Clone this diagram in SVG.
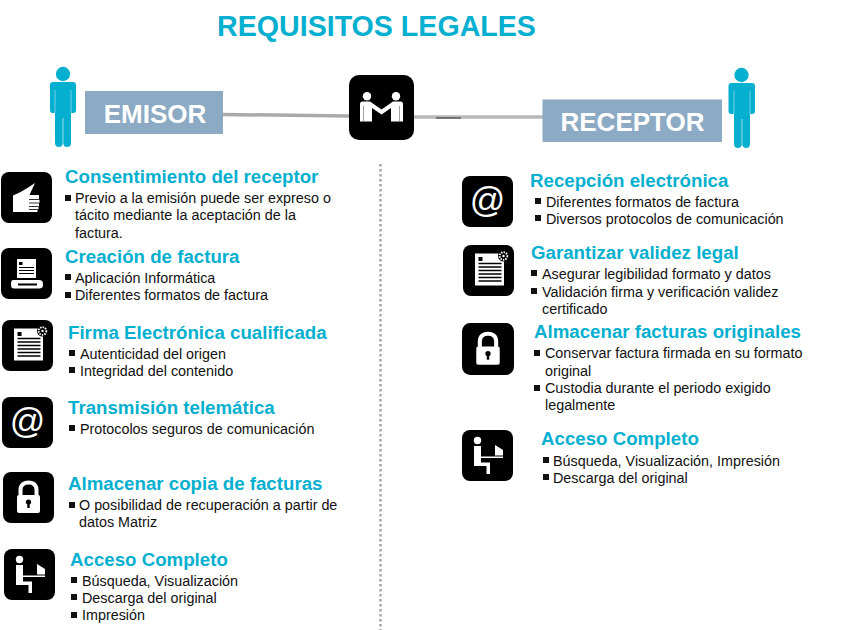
<svg xmlns="http://www.w3.org/2000/svg" width="855" height="630" viewBox="0 0 855 630">
<style>
text{font-family:"Liberation Sans",Arial,sans-serif}
.h{font-size:18.7px;font-weight:700;fill:#04afcf;transform:translateY(.4px)}
.b{font-size:14.35px;fill:#111;transform:translateY(.6px)}
.box{fill:#8caac4}
.lab{font-size:26px;font-weight:700;fill:#fff;text-anchor:middle}
.bg{fill:#000}
.w{fill:#fff}
.k{fill:#000}
.bu{fill:#111}
.slit{stroke:#fff;stroke-opacity:.55;stroke-width:.8;fill:none}
</style>
<defs>
<symbol id="at" viewBox="0 0 51 51"><rect width="51" height="51" rx="8" class="bg"/><text x="25.500" y="36" font-size="35" text-anchor="middle" fill="#fff">@</text></symbol>
<symbol id="doc" viewBox="0 0 51 51"><rect width="51" height="51" rx="8" class="bg"/><rect x="12" y="8.500" width="29" height="32" class="w"/><rect x="15.500" y="12" width="4" height="4" class="k"/><path d="M15.500 18.500H38.500M15.500 22H38.500M15.500 25.500H38.500M15.500 29H38.500M15.500 32.500H38.500M15.500 36H38.500" stroke="#000" stroke-width="1.400"/><circle cx="40.500" cy="11" r="5.500" fill="#000"/><circle cx="40.500" cy="11" r="3.800" fill="#000" stroke="#fff" stroke-width="1.800" stroke-dasharray="1.500 1"/><circle cx="40.500" cy="11" r="1.200" class="w"/></symbol>
<symbol id="lock" viewBox="0 0 51 51"><rect width="51" height="51" rx="8" class="bg"/><path d="M17.500 25V18C17.500 12.500 21.500 10.500 25.500 10.500S33.500 12.500 33.500 18V25" fill="none" stroke="#fff" stroke-width="4"/><rect x="14" y="23" width="23" height="18" rx="2" class="w"/><circle cx="25.500" cy="30" r="2.600" class="k"/><rect x="24.300" y="30" width="2.400" height="6" class="k"/></symbol>
<symbol id="pc" viewBox="0 0 51 51"><rect width="51" height="51" rx="8" class="bg"/><circle cx="15.500" cy="10.500" r="3.700" class="w"/><path d="M12 16H19V32.500H28V44H24.500V36H12Z" class="w"/><path d="M19 26.500H41V28H19Z" class="w"/><path d="M33 15L41 20V25.500H33Z" class="w"/></symbol>
</defs>

<text x="376.500" y="36" text-anchor="middle" font-size="28.600" font-weight="700" fill="#04afcf">REQUISITOS LEGALES</text>

<g id="connectors">
<path d="M223 114.500L349 116" stroke="#aaa" stroke-width="3.500" fill="none"/>
<path d="M414 117H543" stroke="#b8b8b8" stroke-width="3.500" fill="none"/>
<path d="M436 118H461" stroke="#6e6e6e" stroke-width="1.800" fill="none"/>
<path d="M380.500 164V630" stroke="#a6a6a6" stroke-width="2.500" stroke-dasharray="2.500 2.500" fill="none"/>
</g>

<g id="persona-emisor"><circle cx="63" cy="74" r="7.200" fill="#04afcf"/><path d="M53 82H73Q76 82 76 85V110Q76 113 73.500 113H71V143Q71 147 67 147Q64 147 63.300 144V118H62.700V144Q62 147 59 147Q55 147 55 143V113H52.500Q50 113 50 110V85Q50 82 53 82Z" fill="#04afcf"/><path class="slit" d="M55 90V113M71 90V113"/></g>
<g id="persona-receptor"><circle cx="741.500" cy="75" r="7.200" fill="#04afcf"/><path d="M731.500 83H752Q755 83 755 86V111Q755 114 752.500 114H750V144Q750 148 746 148Q743 148 742.300 145V119H741.700V145Q741 148 738 148Q734 148 734 144V114H731.500Q728.500 114 728.500 111V86Q728.500 83 731.500 83Z" fill="#04afcf"/><path class="slit" d="M734 91V114M750 91V114"/></g>

<g id="emisor"><rect class="box" x="85" y="91" width="138" height="43"/><text class="lab" x="155" y="122.500">EMISOR</text></g>
<g id="receptor"><rect class="box" x="542.500" y="99.500" width="179.500" height="42.500"/><text class="lab" x="632.500" y="131">RECEPTOR</text></g>

<g id="acuerdo"><rect x="349" y="75" width="65" height="65" rx="10" class="bg"/>
<circle cx="367" cy="96.300" r="4.200" class="w"/><circle cx="396" cy="96.300" r="4.200" class="w"/>
<path d="M360 104Q360 101.500 362.500 101.500H370L381.500 109.500L393 101.500H400.500Q403 101.500 403 104V121.500H391V108L381.500 114.500L372 108V121.500H360Z" class="w"/>
<path d="M363.500 106V121.500M399.500 106V121.500" stroke="#888" stroke-width=".8" fill="none"/></g>

<g id="e1"><rect x="1" y="172" width="51" height="51" rx="8" class="bg"/><path d="M13 195.500Q22 192 35 183L29.500 195H39V199.500H39.500V203H39V206H38.500V209H37.500V212H13Z" class="w"/><path d="M29 199.500H39.500M29 203H39M29 206.500H38.500M29 209.500H37.500" stroke="#000" stroke-width=".8"/>
<text class="h" x="65" y="183">Consentimiento del receptor</text>
<rect class="bu" x="65" y="195" width="6" height="6"/><text class="b" x="75" y="202">Previo a la emisión puede ser expreso o</text>
<text class="b" x="75" y="219">tácito mediante la aceptación de la</text>
<text class="b" x="75" y="237">factura.</text></g>

<g id="e2"><rect x="1" y="248" width="51" height="51" rx="8" class="bg"/><path d="M17 259H36V278H17Z" class="w"/><rect x="19" y="262" width="3.500" height="3" class="k"/><path d="M19 267.500H34M19 270.500H34M19 273.500H34" stroke="#000" stroke-width="1.200"/><path d="M13 280H39Q43 280 43 284V285Q43 288.500 39 288.500H14Q11 288.500 11 285V284Q11 280 13 280Z" class="w"/><rect x="18" y="283.500" width="19" height="2" class="k"/>
<text class="h" x="65" y="263">Creación de factura</text>
<rect class="bu" x="65" y="274" width="6" height="6"/><text class="b" x="75" y="282">Aplicación Informática</text>
<rect class="bu" x="65" y="292" width="6" height="6"/><text class="b" x="75" y="299">Diferentes formatos de factura</text></g>

<g id="e3"><use href="#doc" x="2" y="320" width="51" height="51"/>
<text class="h" x="68" y="339">Firma Electrónica cualificada</text>
<rect class="bu" x="69" y="350" width="6" height="6"/><text class="b" x="80" y="358">Autenticidad del origen</text>
<rect class="bu" x="69" y="367" width="6" height="6"/><text class="b" x="80" y="375">Integridad del contenido</text></g>

<g id="e4"><use href="#at" x="2" y="397" width="51" height="51"/>
<text class="h" x="68" y="414">Transmisión telemática</text>
<rect class="bu" x="69" y="425" width="6" height="6"/><text class="b" x="80" y="433">Protocolos seguros de comunicación</text></g>

<g id="e5"><use href="#lock" x="3" y="472" width="51" height="51"/>
<text class="h" x="68" y="490">Almacenar copia de facturas</text>
<rect class="bu" x="69" y="502" width="6" height="6"/><text class="b" x="79" y="509">O posibilidad de recuperación a partir de</text>
<text class="b" x="79" y="526">datos Matriz</text></g>

<g id="e6"><use href="#pc" x="4" y="549" width="51" height="51"/>
<text class="h" x="70" y="566">Acceso Completo</text>
<rect class="bu" x="71" y="577" width="6" height="6"/><text class="b" x="82" y="585">Búsqueda, Visualización</text>
<rect class="bu" x="71" y="594" width="6" height="6"/><text class="b" x="82" y="602">Descarga del original</text>
<rect class="bu" x="71" y="612" width="6" height="6"/><text class="b" x="82" y="619">Impresión</text></g>

<g id="r1"><use href="#at" x="462" y="176" width="51" height="51"/>
<text class="h" x="530" y="187">Recepción electrónica</text>
<rect class="bu" x="535" y="198" width="6" height="6"/><text class="b" x="546" y="206">Diferentes formatos de factura</text>
<rect class="bu" x="535" y="215" width="6" height="6"/><text class="b" x="546" y="223">Diversos protocolos de comunicación</text></g>

<g id="r2"><use href="#doc" x="463" y="245" width="51" height="51"/>
<text class="h" x="531" y="259">Garantizar validez legal</text>
<rect class="bu" x="531" y="270" width="6" height="6"/><text class="b" x="542" y="278">Asegurar legibilidad formato y datos</text>
<rect class="bu" x="531" y="288" width="6" height="6"/><text class="b" x="542" y="296">Validación firma y verificación validez</text>
<text class="b" x="542" y="313">certificado</text></g>

<g id="r3"><use href="#lock" x="462" y="323" width="52" height="52"/>
<text class="h" x="534" y="338">Almacenar facturas originales</text>
<rect class="bu" x="534" y="350" width="6" height="6"/><text class="b" x="545" y="357">Conservar factura firmada en su formato</text>
<text class="b" x="545" y="375">original</text>
<rect class="bu" x="534" y="385" width="6" height="6"/><text class="b" x="545" y="392">Custodia durante el periodo exigido</text>
<text class="b" x="545" y="409">legalmente</text></g>

<g id="r4"><use href="#pc" x="462" y="430" width="51" height="51"/>
<text class="h" x="541" y="445">Acceso Completo</text>
<rect class="bu" x="543" y="457" width="6" height="6"/><text class="b" x="553" y="465">Búsqueda, Visualización, Impresión</text>
<rect class="bu" x="543" y="474" width="6" height="6"/><text class="b" x="553" y="482">Descarga del original</text></g>
</svg>
